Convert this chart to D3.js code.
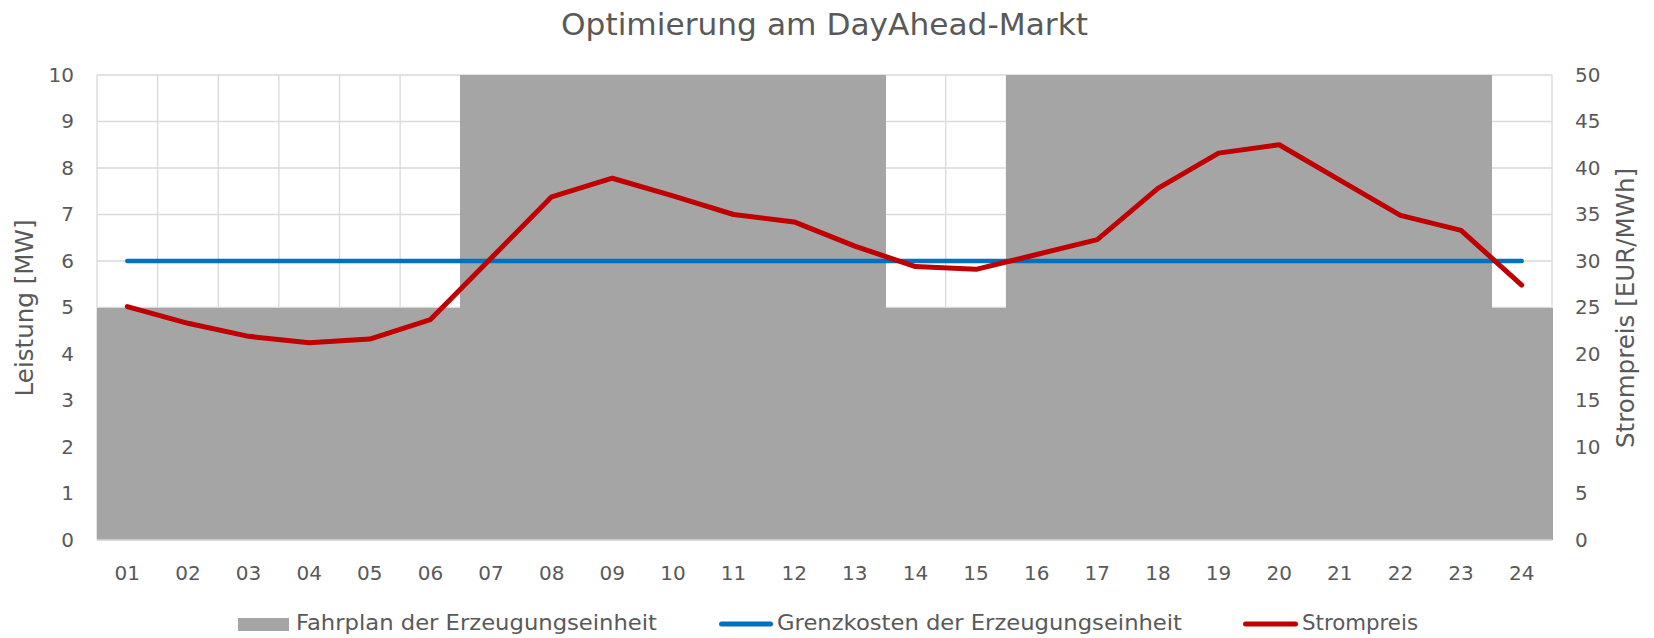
<!DOCTYPE html>
<html>
<head>
<meta charset="utf-8">
<script src="https://cdn.jsdelivr.net/npm/d3@7"></script>
<style>
  html, body { margin: 0; padding: 0; background: #ffffff; }
  svg { display: block; font-family: "DejaVu Sans", sans-serif; }
</style>
</head>
<body>
<svg id="chart" width="1654" height="638"></svg>
<script>
// ---- data ----
const hours = ["01","02","03","04","05","06","07","08","09","10","11","12",
               "13","14","15","16","17","18","19","20","21","22","23","24"];
const fahrplan = [5,5,5,5,5,5,10,10,10,10,10,10,10,5,5,10,10,10,10,10,10,10,10,5];
const grenzkosten = [30,30,30,30,30,30,30,30,30,30,30,30,30,30,30,30,30,30,30,30,30,30,30,30];
const strompreis = [25.1,23.3,21.9,21.2,21.6,23.7,30.3,36.9,38.9,37.0,35.0,34.2,
                    31.6,29.4,29.1,30.7,32.3,37.8,41.6,42.5,38.7,34.9,33.3,27.4];
const leftTicks = [0,1,2,3,4,5,6,7,8,9,10];
const rightTicks = [0,5,10,15,20,25,30,35,40,45,50];
const titleText = "Optimierung am DayAhead-Markt";
const leftTitle = "Leistung [MW]";
const rightTitle = "Strompreis [EUR/MWh]";
const legendLabels = ["Fahrplan der Erzeugungseinheit", "Grenzkosten der Erzeugungseinheit", "Strompreis"];

// ---- layout ----
const L = 97, R = 1552, T = 75, B = 540;
const textColor = "#595959", gridColor = "#D9D9D9";
const barColor = "#A5A5A5", blue = "#0070C0", red = "#C00000";

const svg = d3.select("#chart");

const x = d3.scaleBand().domain(hours).range([L, R]).padding(0);
const yL = d3.scaleLinear().domain([0, 10]).range([B, T]);
const yR = d3.scaleLinear().domain([0, 50]).range([B, T]);

// gridlines
const grid = svg.append("g");
grid.selectAll("line.h").data(leftTicks).join("line")
  .attr("x1", L).attr("x2", R)
  .attr("y1", d => yL(d)).attr("y2", d => yL(d))
  .attr("stroke", gridColor).attr("stroke-width", 1.3);
const bounds = hours.map(h => x(h)).concat([R]);
grid.selectAll("line.v").data(bounds).join("line")
  .attr("x1", d => d).attr("x2", d => d)
  .attr("y1", T).attr("y2", B)
  .attr("stroke", gridColor).attr("stroke-width", 1.3);

// bars
svg.append("g").attr("shape-rendering", "crispEdges")
  .selectAll("rect").data(hours).join("rect")
  .attr("x", d => x(d) - 0.5)
  .attr("width", x.bandwidth() + 1.5)
  .attr("y", (d, i) => yL(fahrplan[i]))
  .attr("height", (d, i) => yL(0) - yL(fahrplan[i]))
  .attr("fill", barColor);

// bottom axis line
svg.append("line").attr("x1", L).attr("x2", R).attr("y1", B).attr("y2", B)
  .attr("stroke", gridColor).attr("stroke-width", 1.3);

// lines
const cx = d => x(d) + x.bandwidth() / 2;
const lineGen = arr => d3.line().x(d => cx(d)).y((d, i) => yR(arr[i]));
svg.append("path").datum(hours)
  .attr("d", lineGen(grenzkosten))
  .attr("fill", "none").attr("stroke", blue).attr("stroke-width", 4.5)
  .attr("stroke-linecap", "round").attr("stroke-linejoin", "round");
svg.append("path").datum(hours)
  .attr("d", lineGen(strompreis))
  .attr("fill", "none").attr("stroke", red).attr("stroke-width", 5)
  .attr("stroke-linecap", "round").attr("stroke-linejoin", "round");

// axes
function styleAxis(g) {
  g.select(".domain").remove();
  g.selectAll(".tick line").remove();
  g.selectAll("text").attr("fill", textColor).style("font-size", "20px")
    .style("font-family", "'DejaVu Sans', sans-serif");
}
svg.append("g").attr("transform", `translate(${L},0)`)
  .call(d3.axisLeft(yL).tickValues(leftTicks).tickSize(0).tickPadding(23).tickFormat(d3.format("d")))
  .call(styleAxis);
svg.append("g").attr("transform", `translate(${R},0)`)
  .call(d3.axisRight(yR).tickValues(rightTicks).tickSize(0).tickPadding(23).tickFormat(d3.format("d")))
  .call(styleAxis);
svg.append("g").attr("transform", `translate(0,${B})`)
  .call(d3.axisBottom(x).tickSize(0).tickPadding(0))
  .call(styleAxis)
  .call(g => g.selectAll("text").attr("y", 33).attr("dy", "0.36em"));

// title
svg.append("text").attr("x", (L + R) / 2).attr("y", 35)
  .attr("text-anchor", "middle").attr("fill", textColor)
  .style("font-size", "30px")
  .attr("textLength", 527).attr("lengthAdjust", "spacingAndGlyphs")
  .text(titleText);

// axis titles
svg.append("text").attr("transform", "translate(33,308) rotate(-90)")
  .attr("text-anchor", "middle").attr("fill", textColor)
  .style("font-size", "24px")
  .attr("textLength", 177).attr("lengthAdjust", "spacingAndGlyphs")
  .text(leftTitle);
svg.append("text").attr("transform", "translate(1634,308) rotate(-90)")
  .attr("text-anchor", "middle").attr("fill", textColor)
  .style("font-size", "24px")
  .attr("textLength", 280).attr("lengthAdjust", "spacingAndGlyphs")
  .text(rightTitle);

// legend
const lg = svg.append("g");
lg.append("rect").attr("x", 238).attr("y", 618).attr("width", 51).attr("height", 13).attr("fill", barColor);
lg.append("line").attr("x1", 721.5).attr("x2", 770.5).attr("y1", 624).attr("y2", 624)
  .attr("stroke", blue).attr("stroke-width", 5).attr("stroke-linecap", "round");
lg.append("line").attr("x1", 1245.5).attr("x2", 1295.5).attr("y1", 624).attr("y2", 624)
  .attr("stroke", red).attr("stroke-width", 5).attr("stroke-linecap", "round");
const legendX = [296, 777, 1302];
const legendW = [361, 405, 116];
lg.selectAll("text").data(legendLabels).join("text")
  .attr("x", (d, i) => legendX[i]).attr("y", 630)
  .attr("fill", textColor).style("font-size", "21px")
  .attr("textLength", (d, i) => legendW[i]).attr("lengthAdjust", "spacingAndGlyphs")
  .text(d => d);
</script>
</body>
</html>
